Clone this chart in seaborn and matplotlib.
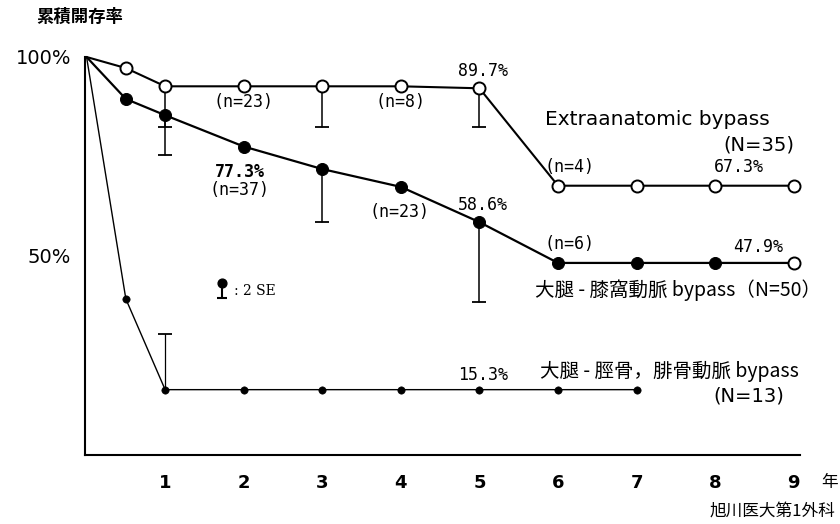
import numpy as np
import pandas as pd
import matplotlib
matplotlib.use("Agg")
import matplotlib.pyplot as plt
import seaborn as sns

sns.set_style("white")
plt.rcParams['font.family'] = ['Noto Sans CJK JP', 'DejaVu Sans']
plt.rcParams['text.color'] = 'black'
plt.rcParams['xtick.color'] = 'black'
plt.rcParams['ytick.color'] = 'black'
plt.rcParams['xtick.labelcolor'] = 'black'
plt.rcParams['ytick.labelcolor'] = 'black'

# --- data ---
years_extra = [0, 0.5, 1, 2, 3, 4, 5, 6, 7, 8, 9]
rate_extra = [100, 97.2, 92.6, 92.6, 92.6, 92.6, 92.1, 67.5, 67.5, 67.5, 67.5]

years_fp = [0, 0.5, 1, 2, 3, 4, 5, 6, 7, 8, 9]
rate_fp = [100, 89.4, 85.3, 77.4, 71.7, 67.2, 58.3, 48.0, 48.0, 48.0, 48.0]

years_ft = [0, 0.5, 1, 2, 3, 4, 5, 6, 7]
rate_ft = [100, 38.9, 16.0, 16.0, 16.0, 16.0, 16.0, 16.0, 16.0]

# 2 SE bars (end of the bar)
se_extra_x = [1, 3, 5]
se_extra_end = [82.4, 82.4, 82.4]
se_fp_x = [1, 3, 5]
se_fp_end = [75.3, 58.3, 38.2]
se_ft_x = [1]
se_ft_end = [30.0]

xticks = [1, 2, 3, 4, 5, 6, 7, 8, 9]
yticks = [50, 100]
ytick_labels = ['50%', '100%']

df_extra = pd.DataFrame({'year': years_extra, 'rate': rate_extra})
df_fp = pd.DataFrame({'year': years_fp, 'rate': rate_fp})
df_ft = pd.DataFrame({'year': years_ft, 'rate': rate_ft})

fig = plt.figure(figsize=(8.4, 5.24), dpi=100)
ax = fig.add_axes([85 / 840, 1 - 455 / 524, 715 / 840, 398 / 524])

# error bars first so markers sit on top
def se_bars(xs, ys_pt, ys_end, lw=1.1):
    for x, y0, y1 in zip(xs, ys_pt, ys_end):
        ax.plot([x, x], [y0, y1], color='black', lw=lw, zorder=2, clip_on=False)
    ax.scatter(xs, ys_end, marker='_', s=90, color='black', linewidths=1.3,
               zorder=2, clip_on=False)

se_bars(se_extra_x, [rate_extra[years_extra.index(x)] for x in se_extra_x], se_extra_end)
se_bars(se_fp_x, [rate_fp[years_fp.index(x)] for x in se_fp_x], se_fp_end)
se_bars(se_ft_x, [rate_ft[years_ft.index(x)] for x in se_ft_x], se_ft_end, lw=0.9)

# lines
sns.lineplot(data=df_extra, x='year', y='rate', ax=ax, color='black', lw=1.5,
             zorder=3, clip_on=False)
sns.lineplot(data=df_fp, x='year', y='rate', ax=ax, color='black', lw=1.6,
             zorder=3, clip_on=False)
sns.lineplot(data=df_ft, x='year', y='rate', ax=ax, color='black', lw=1.0,
             zorder=3, clip_on=False)

# markers
sns.scatterplot(data=df_extra.iloc[1:], x='year', y='rate', ax=ax, s=75,
                facecolor='white', edgecolor='black', linewidth=1.4, zorder=4,
                clip_on=False)
sns.scatterplot(data=df_fp.iloc[1:-1], x='year', y='rate', ax=ax, s=75,
                color='black', edgecolor='black', zorder=4, clip_on=False)
sns.scatterplot(data=df_fp.iloc[[-1]], x='year', y='rate', ax=ax, s=75,
                facecolor='white', edgecolor='black', linewidth=1.4, zorder=4,
                clip_on=False)
sns.scatterplot(data=df_ft.iloc[1:], x='year', y='rate', ax=ax, s=28,
                color='black', edgecolor='black', zorder=4, clip_on=False)

ax.set_xlim(-0.02, 9.08)
ax.set_ylim(-0.5, 100)
ax.set_xticks(xticks)
ax.set_xticklabels([str(t) for t in xticks], fontsize=13, fontweight='bold',
                   family='DejaVu Sans')
ax.set_yticks(yticks)
ax.set_yticklabels(ytick_labels, fontsize=14, family='DejaVu Sans')
ax.tick_params(axis='x', direction='out', length=4, width=1.2, pad=10)
ax.tick_params(axis='y', direction='out', length=7, width=1.2, pad=3)
ax.set_xlabel('')
ax.set_ylabel('')
for s in ['top', 'right']:
    ax.spines[s].set_visible(False)
for s in ['left', 'bottom']:
    ax.spines[s].set_linewidth(1.5)
    ax.spines[s].set_color('black')

# text
fig.text(80 / 840, 1 - 17 / 524, '累積開存率', ha='center', va='center',
         fontsize=12.5, fontweight='bold')
fig.text(830 / 840, 1 - 483 / 524, '年', ha='center', va='center', fontsize=12)
fig.text(772 / 840, 1 - 512 / 524, '旭川医大第1外科', ha='center', va='center',
         fontsize=12)

kw = dict(ha='center', va='center', fontsize=12, family='DejaVu Sans Mono')
ax.text(2.0, 88.6, '(n=23)', **kw)
ax.text(4.0, 88.6, '(n=8)', **kw)
ax.text(5.05, 96.5, '89.7%', **kw)
ax.text(6.15, 72.2, '(n=4)', **kw)
ax.text(8.3, 72.2, '67.3%', **kw)
ax.text(1.95, 71.0, '77.3%', fontweight='bold', **kw)
ax.text(1.95, 66.4, '(n=37)', **kw)
ax.text(3.98, 60.9, '(n=23)', **kw)
ax.text(5.05, 62.6, '58.6%', **kw)
ax.text(6.15, 52.8, '(n=6)', **kw)
ax.text(8.55, 52.0, '47.9%', **kw)
ax.text(5.05, 19.7, '15.3%', **kw)

ax.text(5.83, 84.1, 'Extraanatomic bypass', ha='left', va='center',
        fontsize=14.5, family='DejaVu Sans')
ax.text(8.56, 77.8, '(N=35)', ha='center', va='center', fontsize=14,
        family='DejaVu Sans')
ax.text(5.71, 41.2, '大腿 - 膝窩動脈 bypass（N=50）', ha='left', va='center',
        fontsize=14)
ax.text(5.77, 20.7, '大腿 - 脛骨，腓骨動脈 bypass', ha='left', va='center',
        fontsize=14)
ax.text(8.43, 14.4, '(N=13)', ha='center', va='center', fontsize=14,
        family='DejaVu Sans')

# 2 SE legend symbol
ax.plot([1.72, 1.72], [43.0, 39.2], color='black', lw=1.5)
ax.scatter([1.72], [43.0], s=40, color='black', zorder=4)
ax.scatter([1.72], [39.2], marker='_', s=60, color='black', linewidths=1.5)
ax.text(1.88, 40.8, ': 2 SE', ha='left', va='center', fontsize=10,
        family='DejaVu Serif')

fig.savefig('out.png', dpi=100)
